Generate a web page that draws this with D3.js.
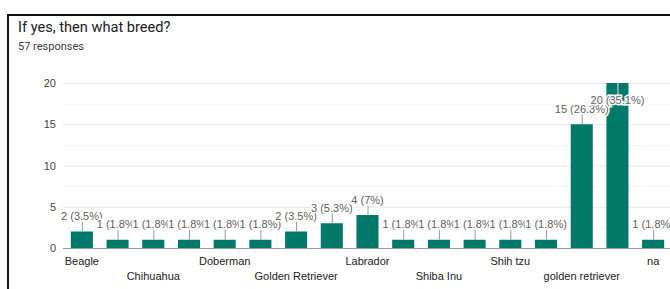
<!DOCTYPE html>
<html>
<head>
<meta charset="utf-8">
<script src="https://cdn.jsdelivr.net/npm/d3@7"></script>
<style>
  body { margin: 0; background: #fff; }
  svg { display: block; }
</style>
</head>
<body>
<svg id="chart"></svg>
<script>
// answers, sorted the way the form sorts them (odd ones have no visible label)
const breeds = ['Beagle', 'Border Collie', 'Chihuahua', 'Corgi', 'Doberman',
  'German Shepherd', 'Golden Retriever', 'Husky', 'Labrador', 'Poodle',
  'Shiba Inu', 'Shih Tzu', 'Shih tzu', 'Yorkie', 'golden retriever',
  'labrador', 'na'];
const counts = [2, 1, 1, 1, 1, 1, 2, 3, 4, 1, 1, 1, 1, 1, 15, 20, 1];
const yTicks = [0, 5, 10, 15, 20];
const yMinor = [2.5, 7.5, 12.5, 17.5];
const total = 57;

const width = 670,
  height = 289;

const svg = d3.select('#chart')
  .attr('width', width)
  .attr('height', height);

svg.append('rect')
  .attr('width', width)
  .attr('height', height)
  .attr('fill', '#fff');

// card frame (only the top and left edges are in the shot)
svg.append('path')
  .attr('d', `M8,${height + 2}V15H${width + 2}`)
  .attr('fill', 'none')
  .attr('stroke', '#111')
  .attr('stroke-width', 2);

svg.append('text')
  .attr('x', 18)
  .attr('y', 32)
  .attr('font-family', 'Roboto, sans-serif')
  .attr('font-size', 14.6)
  .attr('fill', '#202124')
  .text('If yes, then what breed?');

svg.append('text')
  .attr('x', 18)
  .attr('y', 50)
  .attr('font-family', 'Roboto, sans-serif')
  .attr('font-size', 11)
  .attr('fill', '#3c4043')
  .text(total + ' responses');

const x = d3.scaleBand()
  .domain(breeds)
  .range([64, 671])
  .paddingInner(0.382)
  .paddingOuter(0.191);

const y = d3.scaleLinear()
  .domain([0, 20])
  .range([248, 83]);

const font = 'Arial, "Liberation Sans", sans-serif';

// gridlines
svg.append('g')
  .selectAll('line')
  .data(yMinor)
  .join('line')
  .attr('x1', 63).attr('x2', width)
  .attr('y1', d => y(d) + 0.5).attr('y2', d => y(d) + 0.5)
  .attr('stroke', '#f6f6f6');

svg.append('g')
  .selectAll('line')
  .data(yTicks.filter(d => d > 0))
  .join('line')
  .attr('x1', 63).attr('x2', width)
  .attr('y1', d => y(d) + 0.5).attr('y2', d => y(d) + 0.5)
  .attr('stroke', '#e8e8e8');

// y axis labels
const yAxis = svg.append('g')
  .attr('transform', 'translate(56,0)')
  .call(d3.axisLeft(y).tickValues(yTicks).tickSize(0).tickPadding(0));
yAxis.select('.domain').remove();
yAxis.selectAll('text')
  .attr('font-family', font)
  .attr('font-size', 11)
  .attr('fill', '#444');

// bars
svg.append('g')
  .selectAll('rect')
  .data(breeds)
  .join('rect')
  .attr('x', d => x(d))
  .attr('width', x.bandwidth())
  .attr('y', (d, i) => y(counts[i]))
  .attr('height', (d, i) => y(0) - y(counts[i]))
  .attr('fill', '#00796b');

// baseline
svg.append('line')
  .attr('x1', 63).attr('x2', width)
  .attr('y1', y(0) + 0.5).attr('y2', y(0) + 0.5)
  .attr('stroke', '#999');

// x axis labels: every other one, staggered on two rows
const xAxis = svg.append('g')
  .attr('transform', `translate(0,${y(0)})`)
  .call(d3.axisBottom(x)
    .tickValues(breeds.filter((d, i) => i % 2 === 0))
    .tickSize(0));
xAxis.select('.domain').remove();
xAxis.selectAll('text')
  .attr('font-family', font)
  .attr('font-size', 11)
  .attr('fill', '#222')
  .attr('dy', null)
  .attr('y', d => breeds.indexOf(d) % 4 === 0 ? 17 : 32);

// annotations "n (p%)"
function pct(v) {
  return +(v / total * 100).toFixed(1);
}

const ann = svg.append('g')
  .selectAll('g')
  .data(breeds)
  .join('g')
  .attr('transform', d => `translate(${x(d) + x.bandwidth() / 2},0)`);

ann.each(function(d, i) {
  const g = d3.select(this);
  const top = y(counts[i]);
  const inside = top - 22 < y(20);
  g.append('line')
    .attr('x1', 0.5).attr('x2', 0.5)
    .attr('y1', inside ? top : top - 10)
    .attr('y2', inside ? top + 13 : top)
    .attr('stroke', inside ? '#e6e6e6' : '#999');
  g.append('text')
    .attr('y', inside ? top + 21 : top - 11.5)
    .attr('text-anchor', 'middle')
    .attr('font-family', font)
    .attr('font-size', 11)
    .attr('fill', '#5f5f5f')
    .attr('stroke', '#fff')
    .attr('stroke-width', 3)
    .attr('paint-order', 'stroke')
    .text(`${counts[i]} (${pct(counts[i])}%)`);
});
</script>
</body>
</html>
